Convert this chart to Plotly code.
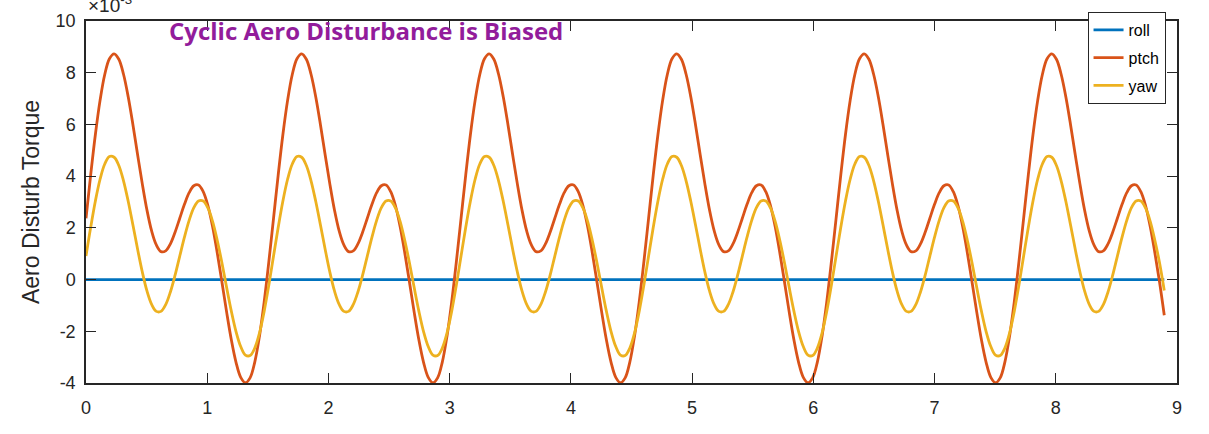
import numpy as np
import plotly.graph_objects as go

# Uniform simulation time base (s), 231 samples from 0 to 8.895 s
time_s = np.linspace(0.0, 8.895, 231)

# Pitch aero disturbance torque (x1e-3)
ptch = [
    2.37, 4.05, 5.61, 6.93, 7.93, 8.54, 8.73, 8.52, 7.94, 7.07,
    6.00, 4.84, 3.71, 2.69, 1.88, 1.34, 1.08, 1.11, 1.38, 1.83,
    2.37, 2.91, 3.36, 3.63, 3.66, 3.40, 2.86, 2.05, 1.03, -0.10,
    -1.26, -2.33, -3.20, -3.78, -3.99, -3.80, -3.19, -2.19, -0.87, 0.69,
    2.37, 4.05, 5.61, 6.93, 7.93, 8.54, 8.73, 8.52, 7.94, 7.07,
    6.00, 4.84, 3.71, 2.69, 1.88, 1.34, 1.08, 1.11, 1.38, 1.83,
    2.37, 2.91, 3.36, 3.63, 3.66, 3.40, 2.86, 2.05, 1.03, -0.10,
    -1.26, -2.33, -3.20, -3.78, -3.99, -3.80, -3.19, -2.19, -0.87, 0.69,
    2.37, 4.05, 5.61, 6.93, 7.93, 8.54, 8.73, 8.52, 7.94, 7.07,
    6.00, 4.84, 3.71, 2.69, 1.88, 1.34, 1.08, 1.11, 1.38, 1.83,
    2.37, 2.91, 3.36, 3.63, 3.66, 3.40, 2.86, 2.05, 1.03, -0.10,
    -1.26, -2.33, -3.20, -3.78, -3.99, -3.80, -3.19, -2.19, -0.87, 0.69,
    2.37, 4.05, 5.61, 6.93, 7.93, 8.54, 8.73, 8.52, 7.94, 7.07,
    6.00, 4.84, 3.71, 2.69, 1.88, 1.34, 1.08, 1.11, 1.38, 1.83,
    2.37, 2.91, 3.36, 3.63, 3.66, 3.40, 2.86, 2.05, 1.03, -0.10,
    -1.26, -2.33, -3.20, -3.78, -3.99, -3.80, -3.19, -2.19, -0.87, 0.69,
    2.37, 4.05, 5.61, 6.93, 7.93, 8.54, 8.73, 8.52, 7.94, 7.07,
    6.00, 4.84, 3.71, 2.69, 1.88, 1.34, 1.08, 1.11, 1.38, 1.83,
    2.37, 2.91, 3.36, 3.63, 3.66, 3.40, 2.86, 2.05, 1.03, -0.10,
    -1.26, -2.33, -3.20, -3.78, -3.99, -3.80, -3.19, -2.19, -0.87, 0.69,
    2.37, 4.05, 5.61, 6.93, 7.93, 8.54, 8.73, 8.52, 7.94, 7.07,
    6.00, 4.84, 3.71, 2.69, 1.88, 1.34, 1.08, 1.11, 1.38, 1.83,
    2.37, 2.91, 3.36, 3.63, 3.66, 3.40, 2.86, 2.05, 1.03, -0.10,
    -1.38,
]

# Yaw aero disturbance torque (x1e-3)
yaw = [
    0.91, 2.02, 3.04, 3.88, 4.47, 4.76, 4.73, 4.41, 3.82, 3.03,
    2.12, 1.18, 0.30, -0.44, -0.96, -1.23, -1.23, -0.97, -0.48, 0.17,
    0.91, 1.64, 2.29, 2.78, 3.04, 3.04, 2.77, 2.25, 1.51, 0.64,
    -0.31, -1.22, -2.01, -2.59, -2.92, -2.94, -2.65, -2.07, -1.23, -0.21,
    0.91, 2.02, 3.04, 3.88, 4.47, 4.76, 4.73, 4.41, 3.82, 3.03,
    2.12, 1.18, 0.30, -0.44, -0.96, -1.23, -1.23, -0.97, -0.48, 0.17,
    0.91, 1.64, 2.29, 2.78, 3.04, 3.04, 2.77, 2.25, 1.51, 0.64,
    -0.31, -1.22, -2.01, -2.59, -2.92, -2.94, -2.65, -2.07, -1.23, -0.21,
    0.91, 2.02, 3.04, 3.88, 4.47, 4.76, 4.73, 4.41, 3.82, 3.03,
    2.12, 1.18, 0.30, -0.44, -0.96, -1.23, -1.23, -0.97, -0.48, 0.17,
    0.91, 1.64, 2.29, 2.78, 3.04, 3.04, 2.77, 2.25, 1.51, 0.64,
    -0.31, -1.22, -2.01, -2.59, -2.92, -2.94, -2.65, -2.07, -1.23, -0.21,
    0.91, 2.02, 3.04, 3.88, 4.47, 4.76, 4.73, 4.41, 3.82, 3.03,
    2.12, 1.18, 0.30, -0.44, -0.96, -1.23, -1.23, -0.97, -0.48, 0.17,
    0.91, 1.64, 2.29, 2.78, 3.04, 3.04, 2.77, 2.25, 1.51, 0.64,
    -0.31, -1.22, -2.01, -2.59, -2.92, -2.94, -2.65, -2.07, -1.23, -0.21,
    0.91, 2.02, 3.04, 3.88, 4.47, 4.76, 4.73, 4.41, 3.82, 3.03,
    2.12, 1.18, 0.30, -0.44, -0.96, -1.23, -1.23, -0.97, -0.48, 0.17,
    0.91, 1.64, 2.29, 2.78, 3.04, 3.04, 2.77, 2.25, 1.51, 0.64,
    -0.31, -1.22, -2.01, -2.59, -2.92, -2.94, -2.65, -2.07, -1.23, -0.21,
    0.91, 2.02, 3.04, 3.88, 4.47, 4.76, 4.73, 4.41, 3.82, 3.03,
    2.12, 1.18, 0.30, -0.44, -0.96, -1.23, -1.23, -0.97, -0.48, 0.17,
    0.91, 1.64, 2.29, 2.78, 3.04, 3.04, 2.77, 2.25, 1.51, 0.64,
    -0.42,
]

# Roll is identically zero
roll_time = [0.000, 8.895]
roll = [0.0, 0.0]

x_ticks = [0, 1, 2, 3, 4, 5, 6, 7, 8, 9]
x_tick_text = ["0", "1", "2", "3", "4", "5", "6", "7", "8", "9"]
y_ticks = [-4, -2, 0, 2, 4, 6, 8, 10]
y_tick_text = ["-4", "-2", "0", "2", "4", "6", "8", "10"]

AX = "#262626"
FONT = "Liberation Sans, Arial, sans-serif"
LW = 2.8

fig = go.Figure()
fig.add_trace(go.Scatter(x=roll_time, y=roll, name="roll", mode="lines",
                         legendgroup="roll",
                         line=dict(color="#0072BD", width=LW)))
fig.add_trace(go.Scatter(x=time_s, y=ptch, name="ptch", mode="lines",
                         legendgroup="ptch",
                         line=dict(color="#D95319", width=LW, shape="spline")))
fig.add_trace(go.Scatter(x=time_s, y=yaw, name="yaw", mode="lines",
                         legendgroup="yaw",
                         line=dict(color="#EDB120", width=LW, shape="spline")))

fig.update_layout(
    width=1209, height=434,
    margin=dict(l=86, r=32, t=16, b=51),
    paper_bgcolor="white", plot_bgcolor="white",
    font=dict(family=FONT, size=18, color=AX),
    showlegend=True,
    legend=dict(x=0.918, y=1.025, xanchor="left", yanchor="top",
                bgcolor="white", bordercolor=AX, borderwidth=1,
                font=dict(family=FONT, size=16, color="black"),
                tracegroupgap=4),
    xaxis=dict(range=[0, 9], tickvals=x_ticks, ticktext=x_tick_text,
               ticks="inside", ticklen=10, ticklabelstandoff=8,
               tickcolor=AX, tickwidth=1, showline=True, linecolor=AX,
               linewidth=1.5, mirror="ticks", showgrid=False, zeroline=False,
               tickfont=dict(family=FONT, size=18, color=AX)),
    yaxis=dict(range=[-4, 10], tickvals=y_ticks, ticktext=y_tick_text,
               ticks="inside", ticklen=10, ticklabelstandoff=5,
               tickcolor=AX, tickwidth=1, showline=True, linecolor=AX,
               linewidth=1.5, mirror="ticks", showgrid=False, zeroline=False,
               tickfont=dict(family=FONT, size=18, color=AX),
               title=dict(text="Aero Disturb Torque", standoff=10,
                          font=dict(family=FONT, size=23, color=AX))),
    annotations=[
        dict(text="<b>Cyclic Aero Disturbance is Biased</b>",
             xref="paper", yref="paper", x=0.257, y=0.975,
             xanchor="center", yanchor="middle", showarrow=False,
             font=dict(family="Open Sans, Lato, sans-serif", size=24,
                       color="#921C9B")),
        dict(text="×10<sup>-3</sup>", xref="paper", yref="paper",
             x=0.0, y=1.0, xanchor="left", yanchor="bottom",
             yshift=3, showarrow=False,
             font=dict(family=FONT, size=19, color=AX)),
    ],
)

fig.write_html("out.html")
